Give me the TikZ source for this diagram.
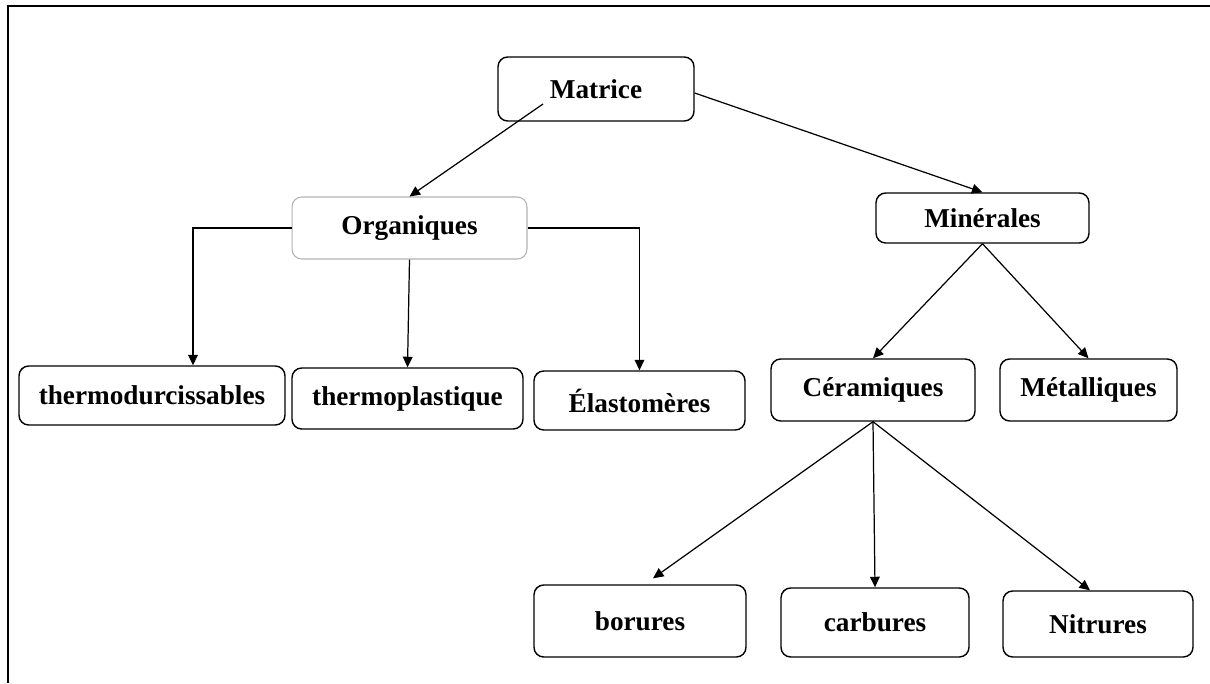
\documentclass[tikz,border=0pt]{standalone}
\usepackage{fontspec}
\setmainfont{Liberation Serif}
\usetikzlibrary{arrows.meta,positioning}

\begin{document}
\begin{tikzpicture}[x=0.02cm,y=-0.02cm,
    box/.style={draw,rounded corners=5.5pt,line width=0.8pt,inner sep=0pt,
      font=\bfseries\fontsize{15.5}{18}\selectfont},
    arr/.style={-{Triangle[length=6pt,width=5.5pt]},line width=0.7pt}]
    \useasboundingbox (0,0) rectangle (1210,683);

    % frame
    \draw[line width=1.3pt] (8,683) -- (8,6) -- (1210,6);

    \node[box,minimum width=3.92cm,minimum height=1.28cm] (mat) at (596,89) {Matrice};
    \node[box,draw=gray!60,line width=0.6pt,minimum width=4.7cm,minimum height=1.24cm] (org) at (409.5,228) {Organiques};
    \node[box,minimum width=4.26cm,minimum height=1.0cm] (min) at (982.5,218) {Minérales};

    \node[box,minimum width=5.32cm,minimum height=1.18cm] (thd) at (152,395.5) {thermodurcissables};
    \node[box,minimum width=4.62cm,minimum height=1.22cm] (thp) at (407.5,398.5) {thermoplastique};
    \node[box,minimum width=4.22cm,minimum height=1.18cm] (ela) at (639.5,400.5) {Élastomères};

    \node[box,minimum width=4.08cm,minimum height=1.24cm] (cer) at (873,390) {Céramiques};
    \node[box,minimum width=3.54cm,minimum height=1.24cm] (met) at (1088.5,390) {Métalliques};

    \node[box,minimum width=4.24cm,minimum height=1.44cm] (bor) at (640,621) {borures};
    \node[box,minimum width=3.76cm,minimum height=1.38cm] (car) at (875,622.5) {carbures};
    \node[box,minimum width=3.8cm,minimum height=1.32cm] (nit) at (1098,624) {Nitrures};

    % matrice
    \draw[arr] ([shift={(-53,15)}]mat.center) -- (org.north);
    \draw[arr] ([shift={(0,4)}]mat.east) -- (min.north);

    % organiques
    \draw[arr] (org.west) -| ([xshift=0.82cm]thd.north);
    \draw[arr] (org.south) -- (thp.north);
    \draw[arr] (org.east) -| (ela.north);

    % minerales
    \foreach \to in {cer,met}
    \draw[arr] (min.south) -- (\to.north);

    % ceramiques
    \draw[arr] (cer.south) -- ([shift={(13,-6)}]bor.north);
    \draw[arr] (cer.south) -- (car.north);
    \draw[arr] (cer.south) -- ([xshift=-0.16cm]nit.north);
\end{tikzpicture}
\end{document}
